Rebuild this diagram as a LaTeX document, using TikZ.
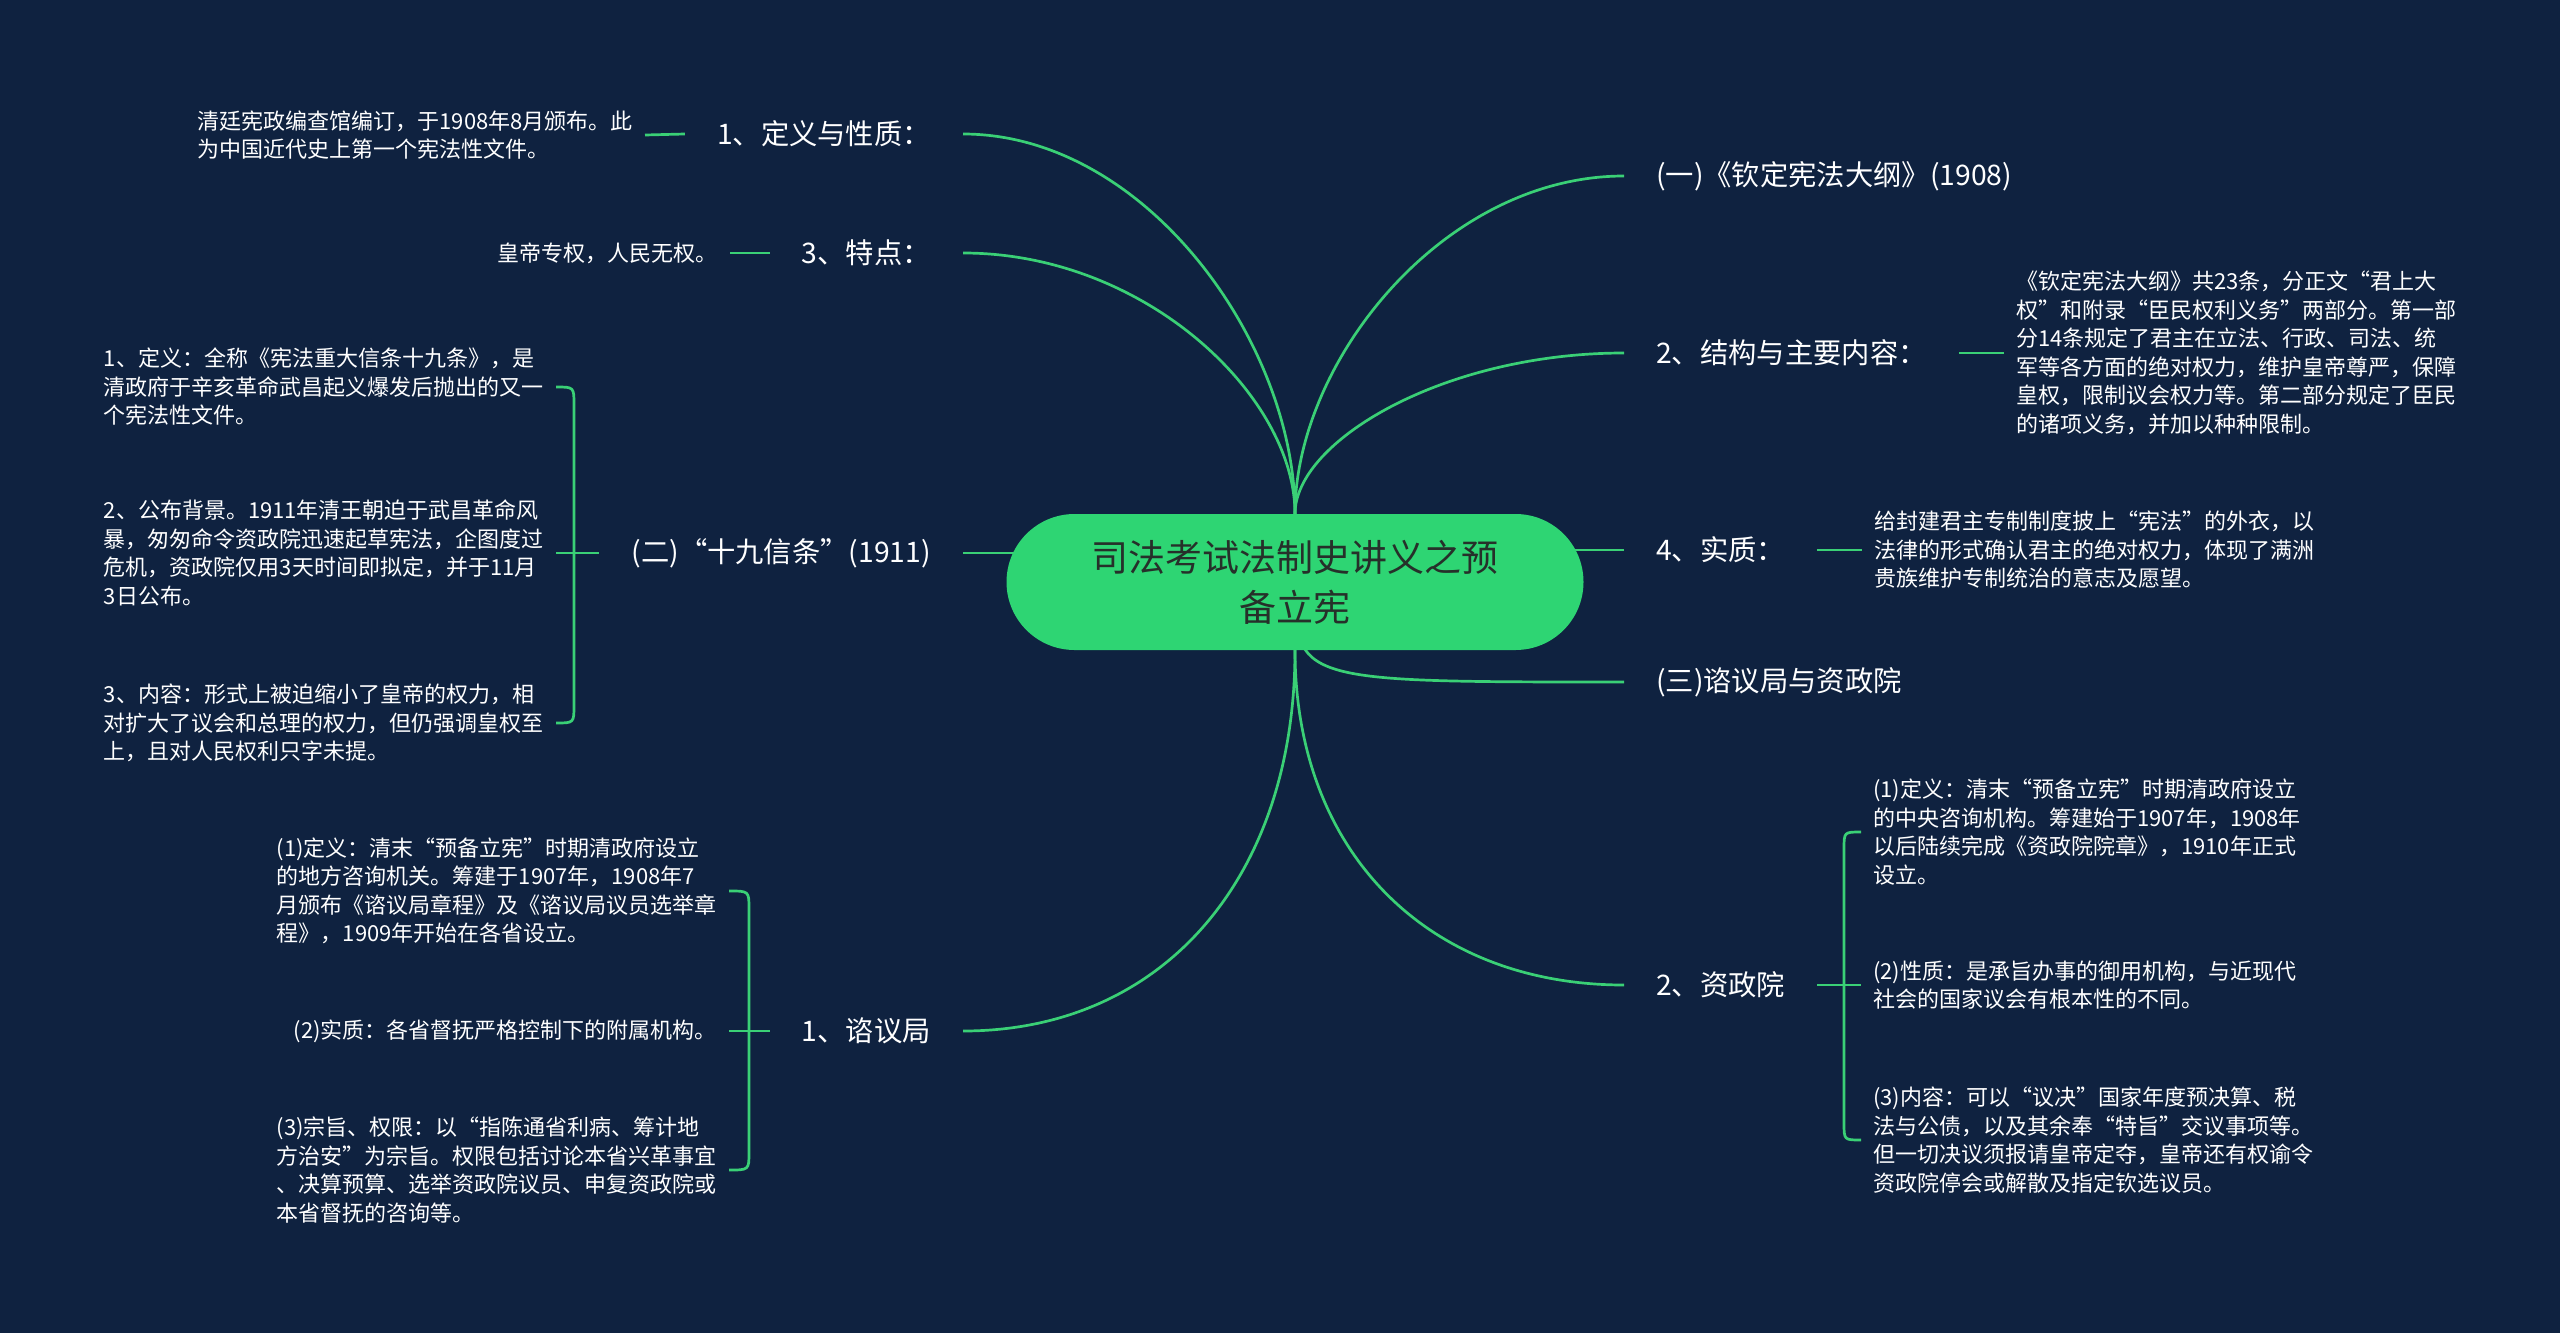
\documentclass[tikz,border=0pt]{standalone}
\usepackage{fontspec}
\setmainfont{Noto Sans CJK SC}
\usetikzlibrary{calc}
\definecolor{bgc}{RGB}{15,34,64}
\definecolor{lnc}{RGB}{58,208,118}
\definecolor{cfill}{RGB}{46,213,115}
\definecolor{ctext}{RGB}{38,48,42}
\pgfdeclarelayer{back}
\pgfdeclarelayer{edges}
\pgfsetlayers{back,edges,main}
\begin{document}
\begin{tikzpicture}[x=1pt,y=-1pt,
  link/.style={draw=lnc, line width=2.7pt},
  lone/.style={text=white, font=\fontsize{28.3}{34}\selectfont, inner xsep=32pt, inner ysep=4pt},
  leaf/.style={text=white, font=\fontsize{22}{28.5}\selectfont, align=left, inner xsep=12pt, inner ysep=2pt},
  rootbox/.style={fill=cfill, rounded corners=68pt, minimum width=577pt, minimum height=136pt, align=center, text=ctext, font=\fontsize{37}{50}\selectfont, inner sep=0pt}
  ]
\begin{pgfonlayer}{back}
\fill[bgc] (0,0) rectangle (2560,1333);
\end{pgfonlayer}
\useasboundingbox (0,0) rectangle (2560,1333);

% root
\node[rootbox] (root) at (1295,582) {司法考试法制史讲义之预\\备立宪};

% level one, left
\node[lone, anchor=east] (a1) at (963,134) {1、定义与性质：};
\node[lone, anchor=east] (a2) at (963,253) {3、特点：};
\node[lone, anchor=east] (a3) at (963,553) {(二)“十九信条”(1911)};
\node[lone, anchor=east] (a4) at (963,1031) {1、谘议局};
% level one, right
\node[lone, anchor=west] (b1) at (1624,176) {(一)《钦定宪法大纲》(1908)};
\node[lone, anchor=west] (b2) at (1624,353) {2、结构与主要内容：};
\node[lone, anchor=west] (b3) at (1624,550) {4、实质：};
\node[lone, anchor=west] (b4) at (1624,682) {(三)谘议局与资政院};
\node[lone, anchor=west] (b5) at (1624,985) {2、资政院};

% leaves, left
\node[leaf, anchor=east] (a1x) at (645,135) {清廷宪政编查馆编订，于1908年8月颁布。此\\为中国近代史上第一个宪法性文件。};
\node[leaf, anchor=east] (a2x) at (730,253) {皇帝专权，人民无权。};
\node[leaf, anchor=east] (a3x) at (556,387) {1、定义：全称《宪法重大信条十九条》，是\\清政府于辛亥革命武昌起义爆发后抛出的又一\\个宪法性文件。};
\node[leaf, anchor=east] (a3y) at (556,553) {2、公布背景。1911年清王朝迫于武昌革命风\\暴，匆匆命令资政院迅速起草宪法，企图度过\\危机，资政院仅用3天时间即拟定，并于11月\\3日公布。};
\node[leaf, anchor=east] (a3z) at (556,723) {3、内容：形式上被迫缩小了皇帝的权力，相\\对扩大了议会和总理的权力，但仍强调皇权至\\上，且对人民权利只字未提。};
\node[leaf, anchor=east] (a4x) at (729,891) {(1)定义：清末“预备立宪”时期清政府设立\\的地方咨询机关。筹建于1907年，1908年7\\月颁布《谘议局章程》及《谘议局议员选举章\\程》，1909年开始在各省设立。};
\node[leaf, anchor=east] (a4y) at (729,1031) {(2)实质：各省督抚严格控制下的附属机构。};
\node[leaf, anchor=east] (a4z) at (729,1170) {(3)宗旨、权限：以“指陈通省利病、筹计地\\方治安”为宗旨。权限包括讨论本省兴革事宜\\、决算预算、选举资政院议员、申复资政院或\\本省督抚的咨询等。};

% leaves, right
\node[leaf, anchor=west] (b2x) at (2004,353) {《钦定宪法大纲》共23条，分正文“君上大\\权”和附录“臣民权利义务”两部分。第一部\\分14条规定了君主在立法、行政、司法、统\\军等各方面的绝对权力，维护皇帝尊严，保障\\皇权，限制议会权力等。第二部分规定了臣民\\的诸项义务，并加以种种限制。};
\node[leaf, anchor=west] (b3x) at (1862,550) {给封建君主专制制度披上“宪法”的外衣，以\\法律的形式确认君主的绝对权力，体现了满洲\\贵族维护专制统治的意志及愿望。};
\node[leaf, anchor=west] (b5x) at (1861,832) {(1)定义：清末“预备立宪”时期清政府设立\\的中央咨询机构。筹建始于1907年，1908年\\以后陆续完成《资政院院章》，1910年正式\\设立。};
\node[leaf, anchor=west] (b5y) at (1861,985) {(2)性质：是承旨办事的御用机构，与近现代\\社会的国家议会有根本性的不同。};
\node[leaf, anchor=west] (b5z) at (1861,1140) {(3)内容：可以“议决”国家年度预决算、税\\法与公债，以及其余奉“特旨”交议事项等。\\但一切决议须报请皇帝定夺，皇帝还有权谕令\\资政院停会或解散及指定钦选议员。};

\begin{pgfonlayer}{edges}
% root to level one (quarter-ellipse like arcs)
\draw[link] (root.north) .. controls ($(root.north)!0.45!(root.north |- a1.east)$) and ($(a1.east)!0.55!(root.north |- a1.east)$) .. (a1.east);
\draw[link] (root.north) .. controls ($(root.north)!0.45!(root.north |- a2.east)$) and ($(a2.east)!0.55!(root.north |- a2.east)$) .. (a2.east);
\draw[link] (root.center |- a3.east) -- (a3.east);
\draw[link] (root.south) .. controls ($(root.south)!0.6!(root.south |- a4.east)$) and ($(a4.east)!0.6!(root.south |- a4.east)$) .. (a4.east);
\draw[link] (root.north) .. controls ($(root.north)!0.45!(root.north |- b1.west)$) and ($(b1.west)!0.55!(root.north |- b1.west)$) .. (b1.west);
\draw[link] (root.north) .. controls ($(root.north)!0.45!(root.north |- b2.west)$) and ($(b2.west)!0.55!(root.north |- b2.west)$) .. (b2.west);
\draw[link] (root.center |- b3.west) -- (b3.west);
\draw[link] (root.center) .. controls (root.center |- b4.west) .. (b4.west);
\draw[link] (root.south) .. controls ($(root.south)!0.6!(root.south |- b5.west)$) and ($(b5.west)!0.6!(root.south |- b5.west)$) .. (b5.west);
% stubs
\draw[link] (a1x.east) -- (a1.west);
\draw[link] (a2x.east) -- (a2.west);
\draw[link] (a3y.east) -- (a3.west);
\draw[link] (a4y.east) -- (a4.west);
\draw[link] (b2.east) -- (b2x.west);
\draw[link] (b3.east) -- (b3x.west);
\draw[link] (b5.east) -- (b5y.west);
% brackets
\draw[link] (a3x.east) .. controls ($(a3x.east)+(18,0)$) .. ($(a3x.east)+(18,18)$)
  -- ($(a3z.east)+(18,-18)$) .. controls ($(a3z.east)+(18,0)$) .. (a3z.east);
\draw[link] (a4x.east) .. controls ($(a4x.east)+(20,0)$) .. ($(a4x.east)+(20,18)$)
  -- ($(a4z.east)+(20,-18)$) .. controls ($(a4z.east)+(20,0)$) .. (a4z.east);
\draw[link] (b5x.west) .. controls ($(b5x.west)+(-17,0)$) .. ($(b5x.west)+(-17,17)$)
  -- ($(b5z.west)+(-17,-17)$) .. controls ($(b5z.west)+(-17,0)$) .. (b5z.west);
\end{pgfonlayer}
\end{tikzpicture}
\end{document}
